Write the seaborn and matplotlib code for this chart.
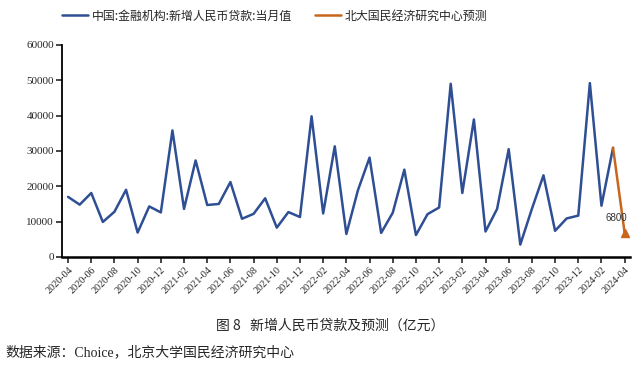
import matplotlib
matplotlib.use('Agg')
import matplotlib.pyplot as plt
import pandas as pd
import seaborn as sns

# 月度新增人民币贷款（亿元）
months = [
    '2020-04', '2020-05', '2020-06', '2020-07', '2020-08', '2020-09', '2020-10', '2020-11', '2020-12',
    '2021-01', '2021-02', '2021-03', '2021-04', '2021-05', '2021-06', '2021-07', '2021-08', '2021-09',
    '2021-10', '2021-11', '2021-12', '2022-01', '2022-02', '2022-03', '2022-04', '2022-05', '2022-06',
    '2022-07', '2022-08', '2022-09', '2022-10', '2022-11', '2022-12', '2023-01', '2023-02', '2023-03',
    '2023-04', '2023-05', '2023-06', '2023-07', '2023-08', '2023-09', '2023-10', '2023-11', '2023-12',
    '2024-01', '2024-02', '2024-03', '2024-04',
]
actual = [
    17000, 14800, 18100, 9900, 12800, 19000, 6900, 14300, 12600,
    35800, 13600, 27300, 14700, 15000, 21200, 10800, 12200, 16600,
    8300, 12700, 11300, 39800, 12300, 31300, 6500, 18900, 28100,
    6800, 12500, 24700, 6200, 12100, 14000, 49000, 18100, 38900,
    7200, 13600, 30500, 3500, 13600, 23100, 7400, 10900, 11700,
    49200, 14500, 30900,
]
forecast_months = ['2024-03', '2024-04']
forecast = [30900, 6800]

actual_label = '中国:金融机构:新增人民币贷款:当月值'
forecast_label = '北大国民经济研究中心预测'

df_actual = pd.DataFrame({'idx': range(len(actual)), 'value': actual})
df_fc = pd.DataFrame({'idx': [months.index(m) for m in forecast_months], 'value': forecast})

sns.set_style('white')
plt.rcParams['font.family'] = ['Liberation Serif', 'Noto Sans CJK SC', 'DejaVu Sans']

fig = plt.figure(figsize=(6.42, 3.65), dpi=100)
ax = fig.add_axes([0.097, 0.296, 0.885, 0.581])

blue = '#2F4F94'
orange = '#C8661E'
sns.lineplot(data=df_actual, x='idx', y='value', ax=ax, color=blue, linewidth=1.8, label=actual_label)
sns.lineplot(data=df_fc, x='idx', y='value', ax=ax, color=orange, linewidth=1.8, label=forecast_label)
ax.plot(df_fc['idx'].iloc[-1], df_fc['value'].iloc[-1], marker='^', color=orange, markersize=6)
ax.annotate(f'{forecast[-1]}', (df_fc['idx'].iloc[-1], df_fc['value'].iloc[-1]),
            xytext=(-6, 11), textcoords='offset points', ha='center', va='center',
            fontsize=7, color='#333333', family=['Liberation Sans'])

ax.set_ylim(0, 60000)
ax.set_yticks(range(0, 60001, 10000))
ax.set_xlim(-0.5, len(months) - 0.5)
ticks = list(range(0, len(months), 2))
ax.set_xticks(ticks)
ax.set_xticklabels([months[i] for i in ticks], rotation=45, ha='right', rotation_mode='anchor')
ax.tick_params(axis='x', labelsize=7.3, length=4, width=1.2, direction='out', bottom=True, pad=2)
ax.tick_params(axis='y', labelsize=8, length=4, width=1.2, direction='out', left=True, pad=2)
ax.set_xlabel('')
ax.set_ylabel('')

for s in ['top', 'right']:
    ax.spines[s].set_visible(False)
ax.spines['left'].set_color('black')
ax.spines['left'].set_linewidth(1.3)
ax.spines['bottom'].set_color('black')
ax.spines['bottom'].set_linewidth(1.8)

ax.legend(loc='center left', bbox_to_anchor=(62 / 642, 1 - 16 / 365), bbox_transform=fig.transFigure,
          ncol=2, frameon=False, borderpad=0, borderaxespad=0,
          prop={'family': ['Noto Sans CJK SC'], 'size': 8.6},
          handlelength=2.2, handletextpad=0.3, columnspacing=1.9)

fig.text(0.515, 0.108, '图 8   新增人民币贷款及预测（亿元）', ha='center', va='center',
         fontsize=10, family=['Noto Sans CJK SC'])
fig.text(0.008, 0.035, '数据来源：Choice，北京大学国民经济研究中心', ha='left', va='center',
         fontsize=10, family=['Liberation Serif', 'Noto Sans CJK SC'])

fig.savefig('out.png', dpi=100)
